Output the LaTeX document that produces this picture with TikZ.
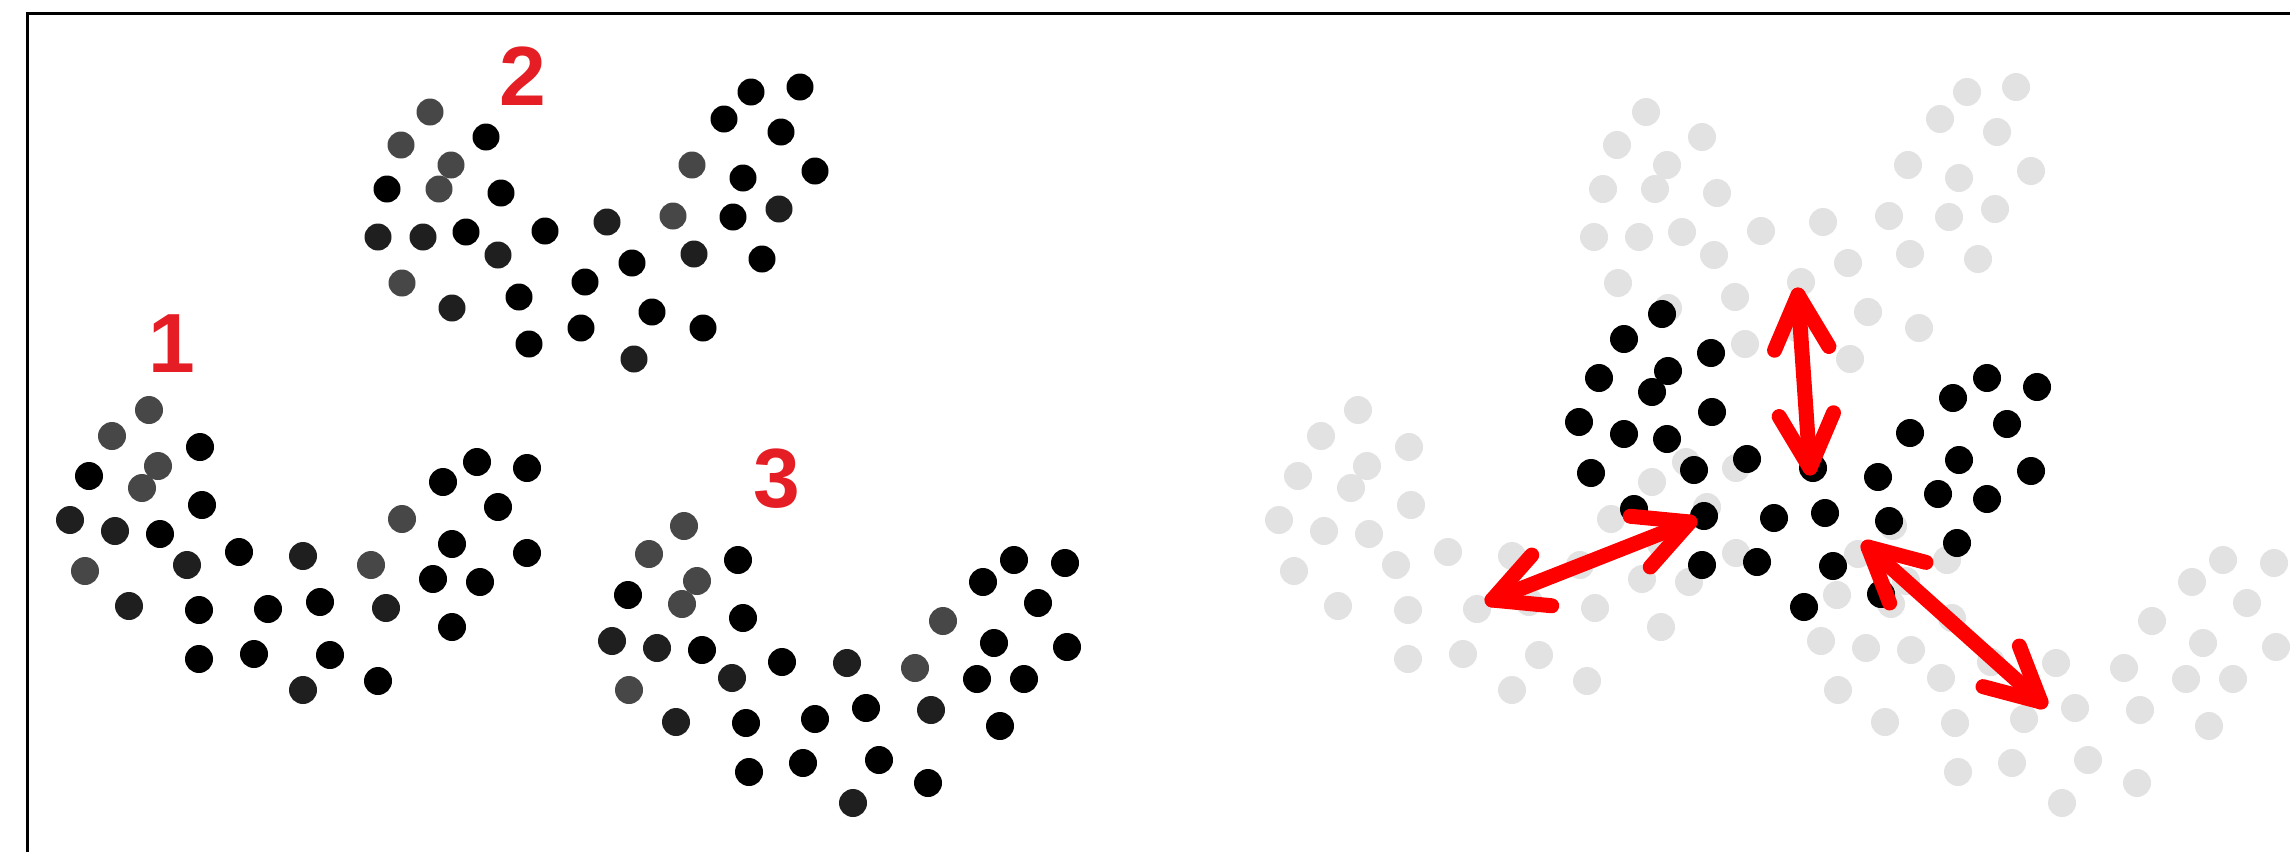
\documentclass[tikz,border=0pt]{standalone}
\usepackage{fontspec}
\setmainfont{Liberation Sans}
\usetikzlibrary{calc}
\definecolor{lblred}{RGB}{228,30,36}
\definecolor{arrred}{RGB}{255,0,0}
\definecolor{ghost}{RGB}{226,226,226}
\colorlet{shK}{black}
\colorlet{shM}{black!72}
\colorlet{shD}{black!88}
\tikzset{
  frameline/.style={line width=3pt, black},
  lbl/.style={text=lblred, font=\fontsize{84}{84}\selectfont\bfseries, inner sep=0pt, anchor=base},
  arr/.style={arrred, line width=15pt, line cap=round, line join=round},
}
\def\ClOne{149/410/shM,112/436/shM,200/447/shK,158/466/shM,89/476/shK,142/488/shM,202/505/shK,70/520/shD,115/531/shD,160/534/shK,239/552/shK,187/565/shD,303/556/shD,85/571/shM,129/606/shD,199/610/shK,268/609/shK,320/602/shK,371/565/shM,386/608/shD,402/519/shM,443/482/shK,477/462/shK,527/468/shK,498/507/shK,452/544/shK,527/553/shK,433/579/shK,480/582/shK,452/627/shK,199/659/shK,254/654/shK,330/655/shK,303/690/shD,378/681/shK}
\def\ClTwo{430/112/shM,401/145/shM,486/137/shK,451/165/shM,387/189/shK,439/189/shM,501/193/shK,378/237/shD,423/237/shD,466/232/shK,545/231/shK,498/255/shD,607/222/shD,402/283/shM,452/308/shD,519/297/shK,585/282/shK,632/263/shK,673/216/shM,694/254/shD,692/165/shM,724/119/shK,751/92/shK,800/87/shK,781/132/shK,743/178/shK,815/171/shK,733/217/shK,779/209/shD,762/259/shK,529/344/shK,581/328/shK,652/312/shK,634/359/shD,703/328/shK}
\def\ClThree{684/526/shM,649/554/shM,738/560/shK,697/581/shM,628/595/shK,682/604/shM,743/618/shK,612/641/shD,657/648/shD,702/650/shK,782/662/shK,732/678/shD,847/663/shD,629/690/shM,676/722/shD,746/723/shK,815/719/shK,866/708/shK,915/668/shM,931/710/shD,943/621/shM,983/582/shK,1014/560/shK,1065/563/shK,1038/603/shK,994/643/shK,1067/647/shK,977/679/shK,1024/679/shK,1000/726/shK,749/772/shK,803/763/shK,879/760/shK,853/803/shD,928/783/shK}
\def\ClMean{1662/314,1624/339,1711/353,1668/371,1599/378,1652/392,1712/412,1579/422,1624/434,1667/439,1747/459,1694/470,1813/468,1591/473,1634/509,1704/516,1774/518,1825/513,1878/477,1889/521,1910/433,1953/398,1987/378,2037/387,2007/424,1959/460,2031/471,1938/494,1987/499,1957/543,1702/565,1757/562,1833/566,1804/607,1881/594}
\newcommand\dblarr[2]{%
  \draw[arr] (#1) -- (#2);
  \draw[arr] ($(#1)!60pt!27:(#2)$) -- (#1) -- ($(#1)!60pt!-27:(#2)$);
  \draw[arr] ($(#2)!60pt!27:(#1)$) -- (#2) -- ($(#2)!60pt!-27:(#1)$);
}
\begin{document}
\begin{tikzpicture}[x=1pt,y=-1pt]
\useasboundingbox (0,0) rectangle (2290,852);
\fill[white] (0,0) rectangle (2290,852);
% frame
\draw[frameline] (27,852) -- (27,13) -- (2290,13);
% left panel clusters
\foreach \x/\y/\c in \ClOne {\fill[fill=\c] (\x,\y) circle (14pt);}
\foreach \x/\y/\c in \ClTwo {\fill[fill=\c] (\x,\y) circle (13.5pt);}
\foreach \x/\y/\c in \ClThree {\fill[fill=\c] (\x,\y) circle (14pt);}
% labels
\node[lbl] (n1) at (172,372) {1};
\node[lbl] (n2) at (523,105) {2};
\node[lbl] (n3) at (777,507) {3};
% right panel ghost clusters
\foreach \x/\y/\c in \ClOne {\fill[ghost] (\x+1209,\y) circle (14pt);}
\foreach \x/\y/\c in \ClTwo {\fill[ghost] (\x+1216,\y) circle (14pt);}
\foreach \x/\y/\c in \ClThree {\fill[ghost] (\x+1209,\y) circle (14pt);}
% mean cluster
\foreach \x/\y in \ClMean {\fill[black] (\x,\y) circle (14pt);}
% arrows
\coordinate (a1m) at (1690,522);
\coordinate (a1o) at (1492,600);
\coordinate (a2o) at (1798,295);
\coordinate (a2m) at (1810,468);
\coordinate (a3m) at (1868,547);
\coordinate (a3o) at (2041,702);
\dblarr{a1m}{a1o}
\dblarr{a2o}{a2m}
\dblarr{a3m}{a3o}
\end{tikzpicture}
\end{document}
